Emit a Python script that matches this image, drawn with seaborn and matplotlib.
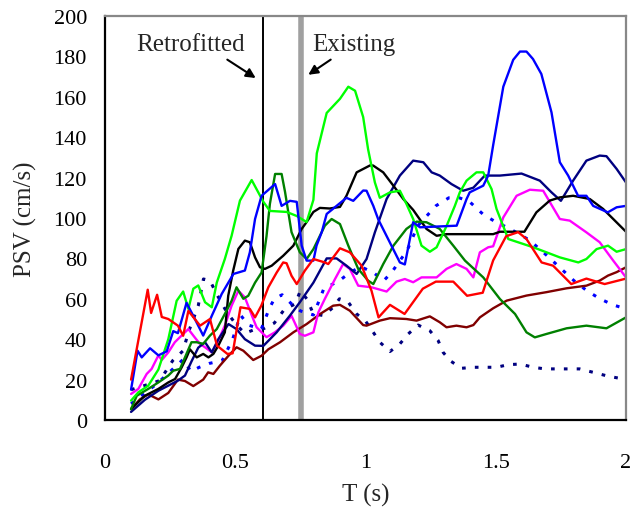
import matplotlib
matplotlib.use("Agg")
import matplotlib.pyplot as plt
import seaborn as sns
from matplotlib.ticker import FuncFormatter

# period markers (s)
retrofit_T = 0.607
existing_T = 0.752

# spectra (T in s, PSV in cm/s)
red_T = [0.10, 0.164, 0.177, 0.20, 0.218, 0.243, 0.28, 0.30, 0.32, 0.365, 0.403, 0.43, 0.47, 0.49, 0.52,
         0.556, 0.576, 0.60, 0.627, 0.659, 0.684, 0.697, 0.716, 0.736, 0.767, 0.80, 0.844, 0.857, 0.902,
         0.94, 0.985, 1.023, 1.05, 1.094, 1.15, 1.22, 1.27, 1.337, 1.39, 1.45, 1.49, 1.54, 1.586, 1.618,
         1.676, 1.72, 1.79, 1.848, 1.918, 2.0]
red_V = [20, 64.5, 53, 62, 51, 50, 46.7, 41.7, 54, 46.7, 50, 36.8, 32.7, 33, 55.8,
         55, 50.8, 56.6, 65.7, 73, 78, 77.6, 71.4, 67.3, 73.9, 79.7, 78, 77.2, 85,
         83, 76.4, 64, 50.8, 57, 52.5, 65, 68.5, 68.5, 61.5, 63, 79, 91, 93, 89.6,
         78, 76.4, 67.3, 70, 67.3, 70]

blue_T = [0.10, 0.125, 0.141, 0.173, 0.205, 0.237, 0.262, 0.28, 0.313, 0.345, 0.377, 0.41, 0.448, 0.493,
          0.537, 0.556, 0.576, 0.601, 0.653, 0.678, 0.71, 0.736, 0.755, 0.774, 0.80, 0.812, 0.832, 0.851,
          0.927, 0.953, 0.991, 1.004, 1.03, 1.049, 1.132, 1.151, 1.183, 1.209, 1.35, 1.388, 1.40, 1.452,
          1.471, 1.49, 1.529, 1.567, 1.593, 1.618, 1.643, 1.675, 1.714, 1.746, 1.778, 1.816, 1.848, 1.874,
          1.93, 1.964, 2.0]
blue_V = [15, 34.3, 31, 35.5, 32, 34, 44, 43, 58, 50, 41.8, 51.6, 62.4, 72.3,
          74, 83, 99.5, 111, 116.8, 106, 108.5, 108, 86.3, 78.9, 78.9, 86.3, 93, 102,
          110, 108.5, 113.6, 113.5, 106, 99.3, 78, 77, 97.9, 95.4, 96.2, 109.4, 112.7, 116,
          121, 136, 165, 178.3, 182.4, 182.4, 178.7, 171.3, 152.3, 127.6, 121, 111, 111, 106,
          102.8, 105.3, 106]

lime_T = [0.10, 0.128, 0.166, 0.205, 0.243, 0.275, 0.30, 0.32, 0.339, 0.358, 0.384, 0.41, 0.429, 0.46,
          0.486, 0.518, 0.563, 0.608, 0.633, 0.697, 0.736, 0.774, 0.80, 0.813, 0.851, 0.902, 0.934, 0.96,
          0.991, 1.01, 1.036, 1.055, 1.094, 1.132, 1.157, 1.183, 1.215, 1.247, 1.273, 1.311, 1.343, 1.362,
          1.388, 1.426, 1.452, 1.484, 1.503, 1.548, 1.644, 1.746, 1.817, 1.848, 1.887, 1.931, 1.964, 2.0]
lime_V = [9.6, 13.7, 17, 25, 40, 59, 63.6, 55, 65, 66.6, 58.3, 55.8, 68, 79.7,
          91.2, 108.6, 118.8, 108, 103.5, 103, 101, 98, 109, 132, 152, 159, 165, 163,
          150, 134, 117.6, 110, 112.7, 113.5, 107, 99.5, 86.3, 83.3, 85.5, 96, 106, 112.7,
          118.5, 122.6, 122.6, 114.3, 104.5, 89.6, 85.5, 80.5, 78, 79.7, 84.6, 86.3, 83.3, 84.6]

green_T = [0.10, 0.122, 0.166, 0.205, 0.243, 0.262, 0.288, 0.313, 0.332, 0.352, 0.377, 0.403, 0.429, 0.46,
           0.486, 0.505, 0.531, 0.55, 0.576, 0.601, 0.62, 0.633, 0.653, 0.678, 0.691, 0.716, 0.748, 0.774,
           0.80, 0.844, 0.87, 0.902, 0.934, 0.972, 1.01, 1.03, 1.068, 1.107, 1.157, 1.196, 1.234, 1.285,
           1.337, 1.382, 1.452, 1.516, 1.574, 1.618, 1.65, 1.695, 1.772, 1.848, 1.925, 2.0]
green_V = [5.4, 12, 15.4, 18.6, 22, 24.4, 25.3, 32.8, 38.5, 38.5, 37.7, 41.8, 45, 52.5,
           59, 65.7, 60, 61.5, 68, 73, 91, 107, 121.8, 121.8, 113, 93, 83, 79.7,
           84.6, 96.2, 99.5, 97, 86.3, 74.8, 69, 67.3, 77.2, 86.3, 94.6, 98.2, 97.9, 94.6,
           86.3, 78.9, 70.6, 59.9, 52.5, 43.4, 40.9, 42.6, 45.4, 46.7, 45.4, 50.8]

black_T = [0.10, 0.153, 0.205, 0.243, 0.269, 0.294, 0.313, 0.326, 0.352, 0.377, 0.397, 0.416, 0.435, 0.46,
           0.473, 0.492, 0.512, 0.537, 0.556, 0.576, 0.595, 0.614, 0.64, 0.684, 0.723, 0.755, 0.774, 0.80,
           0.825, 0.863, 0.902, 0.927, 0.966, 1.017, 1.029, 1.068, 1.107, 1.145, 1.183, 1.234, 1.273, 1.311,
           1.49, 1.516, 1.61, 1.656, 1.707, 1.746, 1.797, 1.861, 1.912, 1.951, 2.0]
black_V = [5.4, 12, 15.4, 18.6, 20.3, 26, 31, 35, 31, 32.7, 31, 32.7, 36.8, 43.4,
           61.5, 73.9, 84.7, 88.8, 88, 80.5, 75.6, 74.8, 76.4, 81.3, 86.3, 94.6, 98, 103,
           105, 104.7, 105.5, 111, 122.6, 126, 126, 122.6, 116, 109.4, 104, 94.6, 91.2, 92,
           92, 93.2, 93.2, 102.8, 108.6, 110.2, 111, 109.4, 104.5, 99.5, 93.2]

navy_T = [0.10, 0.153, 0.205, 0.243, 0.28, 0.307, 0.332, 0.358, 0.384, 0.41, 0.435, 0.474, 0.505, 0.537,
          0.576, 0.608, 0.659, 0.71, 0.748, 0.80, 0.851, 0.889, 0.927, 0.966, 1.004, 1.036, 1.081, 1.132,
          1.183, 1.222, 1.254, 1.285, 1.33, 1.375, 1.414, 1.458, 1.516, 1.599, 1.669, 1.714, 1.75, 1.797,
          1.848, 1.899, 1.925, 1.964, 2.0]
navy_V = [4, 10, 14.5, 17, 19.5, 22, 29, 35.8, 38.5, 33.5, 40, 47.5, 45, 40,
          36.8, 36.7, 43.4, 51.7, 58.3, 68, 80, 80, 76.4, 72.3, 79.7, 92.9, 109.4, 121,
          128.4, 127.6, 122.6, 121, 116.8, 113.5, 115, 121, 121, 122, 118.5, 112.7, 108.5, 118.5,
          128.4, 130.9, 130.6, 124.3, 117.6]

magenta_T = [0.10, 0.128, 0.16, 0.179, 0.205, 0.218, 0.243, 0.268, 0.294, 0.32, 0.339, 0.364, 0.384, 0.41,
             0.429, 0.46, 0.486, 0.512, 0.537, 0.569, 0.582, 0.62, 0.652, 0.684, 0.716, 0.748, 0.767, 0.80,
             0.819, 0.844, 0.883, 0.914, 0.94, 0.972, 1.023, 1.081, 1.119, 1.151, 1.183, 1.215, 1.273, 1.311,
             1.349, 1.388, 1.414, 1.439, 1.471, 1.49, 1.529, 1.58, 1.631, 1.682, 1.746, 1.784, 1.848, 1.899,
             1.951, 2.0]
magenta_V = [12.9, 15.4, 22.8, 25.3, 32, 29.7, 33.5, 38.5, 41.8, 45, 41.8, 37.7, 36, 33.5,
             37.7, 46.7, 56.6, 64, 60.7, 50, 45.9, 41, 43.4, 46.7, 51.6, 42.6, 41.7, 43.4,
             53.3, 60, 69.8, 77.2, 74.8, 66.5, 65.7, 63.6, 68.5, 69.8, 68.2, 70.6, 70.6, 74.8,
             77.2, 74.8, 70.6, 83, 85.5, 86, 100.3, 111, 114, 113.5, 99.5, 98.7, 92.9, 88,
             78.9, 70.6]

maroon_T = [0.10, 0.134, 0.166, 0.205, 0.243, 0.28, 0.307, 0.339, 0.377, 0.396, 0.416, 0.441, 0.474, 0.505,
            0.531, 0.569, 0.601, 0.627, 0.672, 0.723, 0.774, 0.826, 0.876, 0.902, 0.94, 0.991, 1.004, 1.055,
            1.094, 1.157, 1.196, 1.247, 1.285, 1.311, 1.349, 1.388, 1.414, 1.439, 1.49, 1.542, 1.618, 1.695,
            1.772, 1.848, 1.899, 1.931, 1.964, 2.0]
maroon_V = [5.4, 10.2, 12.7, 10.2, 13.4, 20, 19.3, 16.8, 20, 23.6, 22.8, 26.9, 31.8, 36,
            34.3, 29.7, 31.8, 35, 38.5, 43.4, 47.5, 52.5, 56.6, 57, 54.1, 47, 46.7, 49.2,
            50.4, 50, 49.2, 51.3, 48.4, 45.9, 46.7, 45.9, 47, 50.8, 55.3, 59.1, 61.6, 63.3,
            65.2, 66.5, 69, 71.5, 73.2, 75.6]

bluedot_T = [0.10, 0.15, 0.20, 0.25, 0.30, 0.33, 0.36, 0.40, 0.45, 0.49, 0.52, 0.55, 0.60, 0.63, 0.65,
             0.68, 0.72, 0.75, 0.80, 0.84, 0.90, 0.93, 0.98, 1.03, 1.07, 1.10, 1.16, 1.20, 1.27, 1.32,
             1.36, 1.40, 1.45, 1.50, 1.55, 1.63, 1.70, 1.75, 1.80, 1.85, 1.90, 1.95, 2.0]
bluedot_V = [8, 13, 18, 24, 30, 24, 26, 28, 29.4, 40, 52, 47, 45, 55, 60,
             62, 57, 54, 52, 65, 69, 72, 76, 73, 69, 73, 84, 96, 106, 110,
             110, 108, 102, 98, 95, 89, 81, 75, 69, 64, 60, 57, 55]

navydot_T = [0.10, 0.15, 0.21, 0.26, 0.30, 0.32, 0.358, 0.378, 0.403, 0.43, 0.467, 0.505, 0.537, 0.57,
             0.60, 0.65, 0.69, 0.73, 0.75, 0.775, 0.80, 0.84, 0.876, 0.90, 0.934, 0.966, 1.0, 1.03, 1.055,
             1.094, 1.132, 1.164, 1.202, 1.247, 1.279, 1.298, 1.324, 1.369, 1.414, 1.503, 1.548, 1.593,
             1.644, 1.688, 1.822, 1.874, 1.925, 2.0]
navydot_V = [15, 17, 19.5, 29.4, 34.3, 43.4, 56.6, 69.8, 69, 62, 53.5, 47, 42.9, 44.6,
             44.6, 48, 55, 57.4, 64, 59.9, 52.5, 51.7, 55.8, 60, 58.3, 52.5, 49, 43.4, 38.5,
             33.9, 37.7, 42.6, 47, 44.2, 39.3, 33.5, 29.4, 25.6, 26.1, 26.1, 27.4, 27.7,
             26.1, 25.3, 25.3, 23.6, 21.9, 20]

sns.set_style("white")
plt.rcParams['font.family'] = ['Liberation Serif', 'DejaVu Serif']

fig = plt.figure(figsize=(6.31, 5.10), dpi=100)
ax = fig.add_axes([105 / 631, 1 - 421 / 510, 521 / 631, 404 / 510])

ax.axvline(retrofit_T, color='black', lw=1.4, zorder=1)
ax.axvline(existing_T, color='#a0a0a0', lw=4, zorder=1)

dot = (0, (1.2, 3.0))
sns.lineplot(x=navydot_T, y=navydot_V, color='#000080', lw=2.2, linestyle=dot, ax=ax)
sns.lineplot(x=bluedot_T, y=bluedot_V, color='#0000ff', lw=2.2, linestyle=dot, ax=ax)
sns.lineplot(x=maroon_T, y=maroon_V, color='#800000', lw=1.7, ax=ax)
sns.lineplot(x=magenta_T, y=magenta_V, color='#ff00ff', lw=1.7, ax=ax)
sns.lineplot(x=navy_T, y=navy_V, color='#000080', lw=1.7, ax=ax)
sns.lineplot(x=black_T, y=black_V, color='black', lw=1.7, ax=ax)
sns.lineplot(x=green_T, y=green_V, color='#008000', lw=1.7, ax=ax)
sns.lineplot(x=lime_T, y=lime_V, color='#00ff00', lw=1.7, ax=ax)
sns.lineplot(x=blue_T, y=blue_V, color='#0000ff', lw=1.7, ax=ax)
sns.lineplot(x=red_T, y=red_V, color='#ff0000', lw=1.7, ax=ax)

ax.set_xlim(0, 2)
ax.set_ylim(0, 200)
ax.set_xticks([0, 0.5, 1, 1.5, 2])
ax.set_yticks(range(0, 201, 20))
ax.xaxis.set_major_formatter(FuncFormatter(lambda v, p: '%g' % v))
ax.tick_params(axis='x', direction='in', length=5, width=1.3, labelsize=16, pad=24, colors='black')
ax.tick_params(axis='y', direction='in', length=5, width=1.3, labelsize=16, pad=13, colors='black')

for side in ['left', 'bottom']:
    ax.spines[side].set_color('black')
    ax.spines[side].set_linewidth(1.6)
for side in ['top', 'right']:
    ax.spines[side].set_color('#888888')
    ax.spines[side].set_linewidth(1.6)

ax.set_xlabel('T (s)', fontsize=18)
ax.set_ylabel('PSV (cm/s)', fontsize=18)
ax.xaxis.set_label_coords(0.5, -0.155)
ax.yaxis.set_label_coords(-0.13, 0.5)

ax.text(0.33, 186, 'Retrofitted', fontsize=18, ha='center', va='center')
ax.text(0.955, 186, 'Existing', fontsize=18, ha='center', va='center')
arrow = dict(arrowstyle='-|>', color='black', lw=1.5, mutation_scale=14, shrinkA=0, shrinkB=0)
ax.annotate('', xy=(0.5785, 169.3), xytext=(0.4695, 178.4), arrowprops=arrow)
ax.annotate('', xy=(0.7804, 170.9), xytext=(0.8664, 178.4), arrowprops=arrow)

fig.savefig('out.png', dpi=100)
